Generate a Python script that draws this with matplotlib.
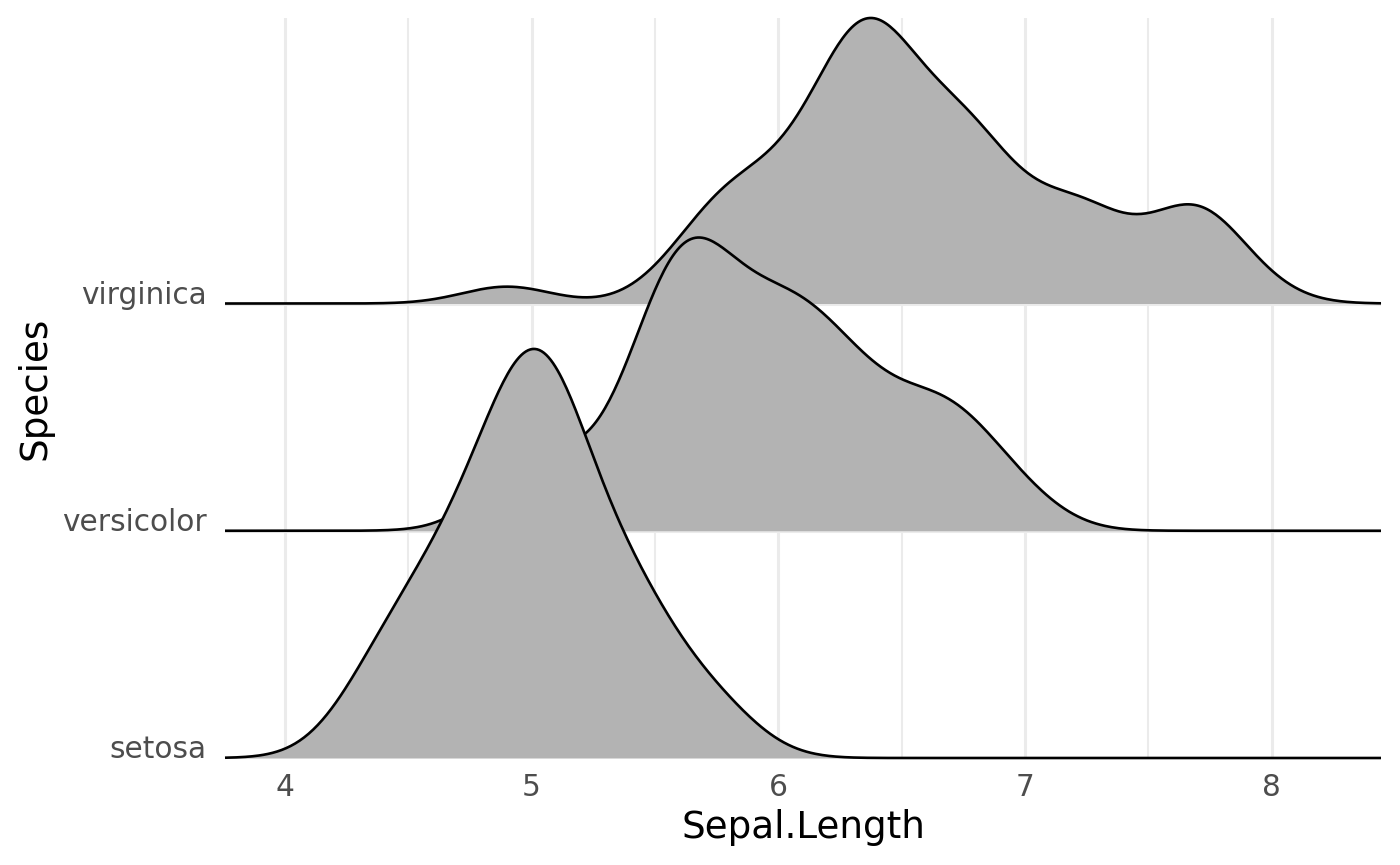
import numpy as np
import matplotlib
matplotlib.use('Agg')
import matplotlib.pyplot as plt

#-- iris Sepal.Length per species
species = ['setosa', 'versicolor', 'virginica']
setosa = [5.1, 4.9, 4.7, 4.6, 5.0, 5.4, 4.6, 5.0, 4.4, 4.9, 5.4, 4.8, 4.8, 4.3, 5.8,
          5.7, 5.4, 5.1, 5.7, 5.1, 5.4, 5.1, 4.6, 5.1, 4.8, 5.0, 5.0, 5.2, 5.2, 4.7,
          4.8, 5.4, 5.2, 5.5, 4.9, 5.0, 5.5, 4.9, 4.4, 5.1, 5.0, 4.5, 4.4, 5.0, 5.1,
          4.8, 5.1, 4.6, 5.3, 5.0]
versicolor = [7.0, 6.4, 6.9, 5.5, 6.5, 5.7, 6.3, 4.9, 6.6, 5.2, 5.0, 5.9, 6.0, 6.1, 5.6,
              6.7, 5.6, 5.8, 6.2, 5.6, 5.9, 6.1, 6.3, 6.1, 6.4, 6.6, 6.8, 6.7, 6.0, 5.7,
              5.5, 5.5, 5.8, 6.0, 5.4, 6.0, 6.7, 6.3, 5.6, 5.5, 5.5, 6.1, 5.8, 5.0, 5.6,
              5.7, 5.7, 6.2, 5.1, 5.7]
virginica = [6.3, 5.8, 7.1, 6.3, 6.5, 7.6, 4.9, 7.3, 6.7, 7.2, 6.5, 6.4, 6.8, 5.7, 5.8,
             6.4, 6.5, 7.7, 7.7, 6.0, 6.9, 5.6, 7.7, 6.3, 6.7, 7.2, 6.2, 6.1, 6.4, 7.2,
             7.4, 7.9, 6.4, 6.3, 6.1, 7.7, 6.3, 6.4, 6.0, 6.9, 6.7, 6.9, 5.8, 6.8, 6.7,
             6.7, 6.3, 6.5, 6.2, 5.9]
groups = [setosa, versicolor, virginica]
x_ticks = [4, 5, 6, 7, 8]

ridge_scale = 1.8   #-- ridge height relative to spacing

#-- joint bandwidth: mean of per-group bw.nrd0 (as ggridges does)
def bw_nrd0(v):
    v = np.asarray(v)
    iqr = np.percentile(v, 75) - np.percentile(v, 25)
    lo = min(np.std(v, ddof=1), iqr / 1.34)
    return 0.9 * lo * len(v) ** -0.2

bw = np.mean([bw_nrd0(g) for g in groups])
allx = np.concatenate(groups)
xmin, xmax = allx.min() - 3 * bw, allx.max() + 3 * bw
xs = np.linspace(xmin, xmax, 512)

def kde(v):
    v = np.asarray(v)[:, None]
    z = (xs[None, :] - v) / bw
    return np.exp(-0.5 * z ** 2).sum(axis=0) / (len(v) * bw * np.sqrt(2 * np.pi))

dens = [kde(g) for g in groups]
dmax = max(d.max() for d in dens)
heights = [d / dmax * ridge_scale for d in dens]

#-- figure
fig = plt.figure(figsize=(14, 8.65), dpi=100)
ax = fig.add_axes([225/1400, 107/865, 1156/1400, 740/865])

grid_col = '#EBEBEB'
for xv in np.arange(4, 8.01, 1.0):
    ax.axvline(xv, color=grid_col, lw=2.2, zorder=0)
for xv in np.arange(4.5, 8.01, 1.0):
    ax.axvline(xv, color=grid_col, lw=1.5, zorder=0)
for i in range(len(species)):
    ax.axhline(i + 1, color=grid_col, lw=2.2, zorder=0)

#-- draw from top to bottom so lower ridges overlay upper ones
for i in reversed(range(len(species))):
    base = i + 1
    top = base + heights[i]
    z = 2 + (len(species) - i) * 2
    ax.fill_between(xs, base, top, color='#B3B3B3', lw=0, zorder=z)
    ax.plot(xs, top, color='black', lw=1.9, zorder=z + 1, clip_on=False,
            solid_capstyle='butt')

ax.set_xlim(xmin, xmax)
ax.set_ylim(1, 3 + heights[2].max())

for s in ax.spines.values():
    s.set_visible(False)
ax.set_xticks(x_ticks)
ax.set_xticklabels([str(t) for t in x_ticks])
ax.set_yticks([1, 2, 3])
ax.set_yticklabels(species)
for lab in ax.get_yticklabels():
    lab.set_verticalalignment('baseline')
ax.tick_params(axis='both', length=0, labelsize=21.3, labelcolor='#4D4D4D')
ax.tick_params(axis='x', pad=11)
ax.tick_params(axis='y', pad=13)

ax.set_xlabel('Sepal.Length', fontsize=26.8, labelpad=5)
ax.set_ylabel('Species', fontsize=26.8, labelpad=6)

plt.savefig('out.png', dpi=100)
